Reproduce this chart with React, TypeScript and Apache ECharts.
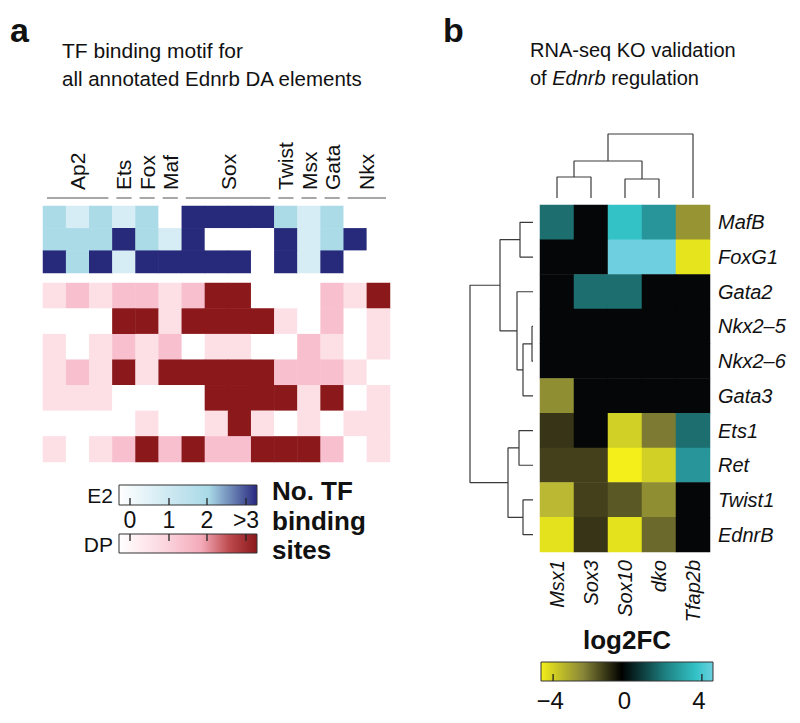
import React, { useEffect, useRef } from 'react';
import * as echarts from 'echarts';

const FONT = "'Liberation Sans', Arial, Helvetica, sans-serif";

// ---------- Panel a data ----------
const motifColumns = ['Ap2 1', 'Ap2 2', 'Ap2 3', 'Ets', 'Fox', 'Maf', 'Sox 1', 'Sox 2', 'Sox 3', 'Sox 4', 'Twist', 'Msx', 'Gata', 'Nkx 1', 'Nkx 2'];
const motifGroups = [
  { name: 'Ap2', start: 0, end: 2 },
  { name: 'Ets', start: 3, end: 3 },
  { name: 'Fox', start: 4, end: 4 },
  { name: 'Maf', start: 5, end: 5 },
  { name: 'Sox', start: 6, end: 9 },
  { name: 'Twist', start: 10, end: 10 },
  { name: 'Msx', start: 11, end: 11 },
  { name: 'Gata', start: 12, end: 12 },
  { name: 'Nkx', start: 13, end: 14 },
];
const e2Elements = ['E2 el. 1', 'E2 el. 2', 'E2 el. 3'];
const e2Counts = [
  [2, 1, 2, 1, 2, 0, 3, 3, 3, 3, 2, 1, 2, 0, 0],
  [2, 2, 2, 3, 2, 1, 3, 0, 0, 0, 3, 1, 2, 3, 0],
  [3, 2, 3, 1, 3, 3, 3, 3, 3, 0, 3, 1, 3, 0, 0],
];
const dpElements = ['DP el. 1', 'DP el. 2', 'DP el. 3', 'DP el. 4', 'DP el. 5', 'DP el. 6', 'DP el. 7'];
const dpCounts = [
  [1, 2, 1, 2, 2, 1, 2, 3, 3, 0, 0, 0, 2, 1, 3],
  [0, 0, 0, 3, 3, 1, 3, 3, 3, 3, 1, 0, 2, 0, 1],
  [1, 0, 1, 2, 1, 2, 0, 1, 1, 0, 0, 2, 1, 0, 1],
  [1, 2, 1, 3, 1, 3, 3, 3, 3, 3, 2, 2, 2, 1, 0],
  [1, 1, 1, 0, 0, 0, 0, 3, 3, 3, 3, 1, 3, 0, 1],
  [0, 0, 0, 0, 1, 0, 0, 1, 3, 1, 0, 1, 0, 1, 1],
  [1, 0, 1, 2, 3, 2, 3, 2, 2, 3, 3, 3, 2, 0, 1],
];
const e2Colors = ['#ffffff', '#d6edf5', '#acdbe8', '#27297a'];
const dpColors = ['#ffffff', '#fce0e6', '#f8c0cf', '#8b181b'];
const countTicks = ['0', '1', '2', '>3'];

// ---------- Panel b data ----------
const koColumns = ['Msx1', 'Sox3', 'Sox10', 'dko', 'Tfap2b'];
const koGenes = ['MafB', 'FoxG1', 'Gata2', 'Nkx2\u20135', 'Nkx2\u20136', 'Gata3', 'Ets1', 'Ret', 'Twist1', 'EdnrB'];
const log2fc = [
  [2.1, 0, 4.0, 3.0, -2.4],
  [0, 0, 5.0, 5.0, -4.3],
  [0, 2.1, 2.1, 0, 0],
  [0, 0, 0, 0, 0],
  [0, 0, 0, 0, 0],
  [-2.3, 0, 0, 0, 0],
  [-0.8, 0, -3.6, -2.0, 2.1],
  [-1.0, -1.0, -5.0, -3.6, 3.0],
  [-3.0, -1.0, -1.4, -2.3, 0],
  [-4.2, -0.8, -4.2, -1.7, 0],
];
const fcTicks = [-4, 0, 4];
const fcColors = ['#f4ef1a', '#e0df1e', '#bbb934', '#7d7b33', '#43401b', '#050607', '#0f3a3a', '#1c6a6a', '#27959a', '#33c2c6', '#6dcfdf'];

// hclust-style merges (negative = leaf, positive = earlier merge), heights
const colMerge = [[-1, -2], [-3, -4], [1, 2], [3, -5]];
const colHeights = [21, 19, 37, 64];
const rowMerge = [[-4, -5], [-1, -2], [-9, -10], [1, -6], [-7, -8], [-3, 4], [2, 6], [5, 3], [7, 8]];
const rowHeights = [1, 13, 10, 10, 14, 16, 33, 25, 63];

function dendroSegments(merge: number[][], heights: number[]) {
  const pos: number[] = [];
  const segs: number[][][] = [];
  const get = (id: number) => (id < 0 ? { p: -id - 1, h: 0 } : { p: pos[id - 1], h: heights[id - 1] });
  merge.forEach(([a, b], i) => {
    const A = get(a);
    const B = get(b);
    const h = heights[i];
    pos[i] = (A.p + B.p) / 2;
    segs.push([[A.p, A.h], [A.p, h], [B.p, h], [B.p, B.h]]);
  });
  return segs;
}

function buildOption() {
  const e2Data: number[][] = [];
  e2Counts.forEach((row, r) => row.forEach((v, c) => e2Data.push([c, r, v])));
  const dpData: number[][] = [];
  dpCounts.forEach((row, r) => row.forEach((v, c) => dpData.push([c, r, v])));
  const fcData: number[][] = [];
  log2fc.forEach((row, r) => row.forEach((v, c) => fcData.push([c, r, v])));

  const colSegs = dendroSegments(colMerge, colHeights);
  const rowSegs = dendroSegments(rowMerge, rowHeights).map((s) => s.map(([p, h]) => [h, p]));

  const dendroLine = { color: '#3a3a3a', width: 1.2 };
  const hiddenCat = (data: string[], gridIndex: number, inverse = false) => ({
    type: 'category', data, gridIndex, inverse, show: false,
  });

  const series: any[] = [
    { type: 'heatmap', xAxisIndex: 0, yAxisIndex: 0, data: e2Data, silent: true },
    { type: 'heatmap', xAxisIndex: 1, yAxisIndex: 1, data: dpData, silent: true },
    { type: 'heatmap', xAxisIndex: 2, yAxisIndex: 2, data: fcData, silent: true },
    {
      type: 'custom', xAxisIndex: 0, yAxisIndex: 0, silent: true,
      data: motifGroups.map((g) => [g.start, g.end]),
      renderItem: (params: any, api: any) => {
        const g = motifGroups[params.dataIndex];
        const half = api.size([1, 0])[0] / 2;
        const x0 = api.coord([g.start, 0])[0] - half + 4;
        const x1 = api.coord([g.end, 0])[0] + half - 4;
        const yLine = params.coordSys.y - 8;
        return {
          type: 'group',
          children: [
            { type: 'line', shape: { x1: x0, y1: yLine, x2: x1, y2: yLine }, style: { stroke: '#8a8a8a', lineWidth: 1.5 } },
            {
              type: 'text', x: (x0 + x1) / 2, y: yLine - 8, rotation: Math.PI / 2,
              style: { text: g.name, align: 'left', verticalAlign: 'middle', fontSize: 21, fontFamily: FONT, fill: '#111' },
            },
          ],
        };
      },
    },
  ];
  colSegs.forEach((s) => series.push({
    type: 'line', xAxisIndex: 3, yAxisIndex: 3, data: s, symbol: 'none', silent: true, lineStyle: dendroLine,
  }));
  rowSegs.forEach((s) => series.push({
    type: 'line', xAxisIndex: 4, yAxisIndex: 4, data: s, symbol: 'none', silent: true, lineStyle: dendroLine,
  }));

  const txt = (text: string, x: number, y: number, extra: any = {}) => ({
    type: 'text', x, y,
    style: { text, fontFamily: FONT, fontSize: 20, fill: '#111', align: 'left', verticalAlign: 'middle', ...extra },
  });

  const legendA = [
    txt('E2', 113, 495, { align: 'right', fontSize: 21 }),
    txt('DP', 113, 544, { align: 'right', fontSize: 21 }),
    {
      type: 'rect', shape: { x: 119, y: 485, width: 138, height: 20 },
      style: {
        fill: new echarts.graphic.LinearGradient(0, 0, 1, 0, [
          { offset: 0, color: '#ffffff' }, { offset: 0.35, color: '#cfe9f2' },
          { offset: 0.65, color: '#a9d9e7' }, { offset: 1, color: '#28287f' },
        ]),
        stroke: '#333', lineWidth: 1,
      },
    },
    {
      type: 'rect', shape: { x: 119, y: 534, width: 138, height: 19 },
      style: {
        fill: new echarts.graphic.LinearGradient(0, 0, 1, 0, [
          { offset: 0, color: '#ffffff' }, { offset: 0.35, color: '#fbd3dd' },
          { offset: 0.6, color: '#f3a9b8' }, { offset: 0.8, color: '#bd4a4d' }, { offset: 1, color: '#8b181b' },
        ]),
        stroke: '#333', lineWidth: 1,
      },
    },
    ...[130, 169, 207, 246].flatMap((x, i) => [
      { type: 'line', shape: { x1: x, y1: 505, x2: x, y2: 498 }, style: { stroke: '#222', lineWidth: 1.3 } },
      { type: 'line', shape: { x1: x, y1: 534, x2: x, y2: 541 }, style: { stroke: '#222', lineWidth: 1.3 } },
      txt(countTicks[i], x, 520, { align: 'center', fontSize: 23 }),
    ]),
    txt('No. TF', 272, 491, { fontWeight: 'bold', fontSize: 26 }),
    txt('binding', 272, 521, { fontWeight: 'bold', fontSize: 26 }),
    txt('sites', 272, 550, { fontWeight: 'bold', fontSize: 26 }),
  ];

  const fcX = (v: number) => 627.5 + v * 18.6;
  const legendB = [
    txt('log2FC', 627, 640, { align: 'center', fontWeight: 'bold', fontSize: 26 }),
    {
      type: 'rect', shape: { x: 541, y: 662, width: 172, height: 19 },
      style: {
        fill: new echarts.graphic.LinearGradient(0, 0, 1, 0, [
          { offset: 0, color: '#f2ee1a' }, { offset: 0.24, color: '#8a8838' },
          { offset: 0.47, color: '#000000' }, { offset: 0.72, color: '#1d7f80' },
          { offset: 0.9, color: '#33c2c6' }, { offset: 1, color: '#6ad0df' },
        ]),
        stroke: '#333', lineWidth: 1,
      },
    },
    ...fcTicks.filter((v) => v !== 0).map((v) => ({
      type: 'line', shape: { x1: fcX(v), y1: 681, x2: fcX(v), y2: 674 }, style: { stroke: '#222', lineWidth: 1.3 },
    })),
    ...fcTicks.map((v) => txt(v < 0 ? '\u2212' + Math.abs(v) : String(v), fcX(v) - 3, 700, { align: 'center', fontSize: 24 })),
  ];

  return {
    animation: false,
    backgroundColor: '#ffffff',
    textStyle: { fontFamily: FONT },
    grid: [
      { left: 43, top: 206, width: 347, height: 67 },
      { left: 43, top: 283, width: 347, height: 179 },
      { left: 540, top: 205, width: 170, height: 347 },
      { left: 540, top: 130, width: 170, height: 68 },
      { left: 466, top: 205, width: 67, height: 347 },
    ],
    xAxis: [
      hiddenCat(motifColumns, 0),
      hiddenCat(motifColumns, 1),
      {
        type: 'category', data: koColumns, gridIndex: 2, position: 'bottom',
        axisLine: { show: false }, axisTick: { show: false },
        axisLabel: { rotate: 90, margin: 8, fontSize: 20, fontStyle: 'italic', color: '#111', fontFamily: FONT },
      },
      { type: 'value', gridIndex: 3, min: -0.5, max: 4.5, show: false },
      { type: 'value', gridIndex: 4, min: 0, max: 67, inverse: true, show: false },
    ],
    yAxis: [
      hiddenCat(e2Elements, 0, true),
      hiddenCat(dpElements, 1, true),
      {
        type: 'category', data: koGenes, gridIndex: 2, inverse: true, position: 'right',
        axisLine: { show: false }, axisTick: { show: false },
        axisLabel: { margin: 8, fontSize: 20, fontStyle: 'italic', color: '#111', fontFamily: FONT },
      },
      { type: 'value', gridIndex: 3, min: 0, max: 68, show: false },
      { type: 'value', gridIndex: 4, min: -0.5, max: 9.5, inverse: true, show: false },
    ],
    visualMap: [
      {
        type: 'piecewise', show: false, seriesIndex: 0, dimension: 2,
        pieces: e2Colors.map((c, i) => ({ value: i, color: c })),
      },
      {
        type: 'piecewise', show: false, seriesIndex: 1, dimension: 2,
        pieces: dpColors.map((c, i) => ({ value: i, color: c })),
      },
      {
        type: 'continuous', show: false, seriesIndex: 2, dimension: 2, min: -5, max: 5,
        inRange: { color: fcColors },
      },
    ],
    series,
    graphic: [
      txt('a', 10, 30, { fontWeight: 'bold', fontSize: 34 }),
      txt('TF binding motif for', 62, 50, { fontSize: 21 }),
      txt('all annotated Ednrb DA elements', 62, 78, { fontSize: 20.5 }),
      txt('b', 443, 30, { fontWeight: 'bold', fontSize: 34 }),
      txt('RNA-seq KO validation', 530, 50),
      {
        type: 'text', x: 530, y: 78,
        style: {
          text: '{n|of }{i|Ednrb}{n| regulation}', verticalAlign: 'middle', fill: '#111',
          rich: {
            n: { fontFamily: FONT, fontSize: 20, fill: '#111' },
            i: { fontFamily: FONT, fontSize: 20, fontStyle: 'italic', fill: '#111' },
          },
        },
      },
      ...legendA,
      ...legendB,
    ],
  };
}

export default function App() {
  const ref = useRef<HTMLDivElement>(null);
  useEffect(() => {
    document.body.style.margin = '0';
    const chart = echarts.init(ref.current!, null, { renderer: 'svg' });
    chart.setOption(buildOption() as any);
    return () => chart.dispose();
  }, []);
  return <div ref={ref} style={{ width: 800, height: 723, position: 'absolute', left: 0, top: 0 }} />;
}
